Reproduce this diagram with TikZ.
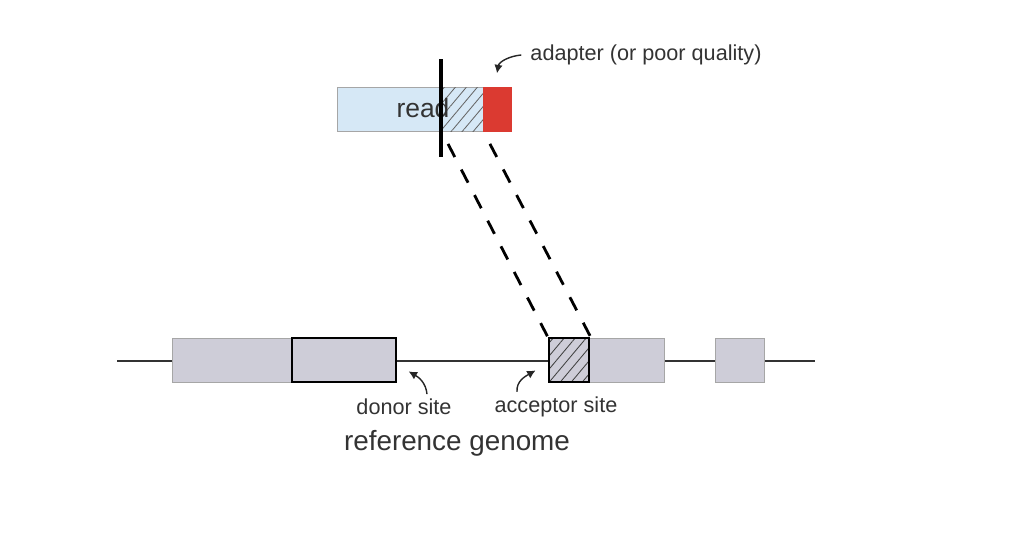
\documentclass[tikz,border=0pt]{standalone}
\usepackage{fontspec}
\setmainfont{Liberation Sans}
\usepackage{xcolor}
\usepackage{tikz}
\usetikzlibrary{shapes,arrows,arrows.meta,calc,patterns.meta}
\definecolor{readblue}{HTML}{D6E8F6}
\definecolor{exongray}{HTML}{CECDD8}
\definecolor{adapterred}{HTML}{DB3A31}
\definecolor{textgray}{HTML}{333333}
\tikzstyle{tsLabel} = [ 
    text=textgray, 
    font=\fontsize{15.4}{18}\selectfont
]
\tikzstyle{tsTitle} = [ 
    tsLabel, 
    font=\fontsize{19.8}{23}\selectfont
]
\tikzstyle{tsBox} = [ 
    rectangle,
    inner sep=0pt,
    minimum height=1.1cm,
    draw=gray!70,
    line width=0.7pt]
\tikzstyle{tsExon} = [ 
    tsBox,
    fill=exongray]
\tikzstyle{tsBold} = [ 
    tsBox,
    draw=black,
    line width=2pt]
\tikzstyle{tsHatch} = [ 
    pattern={Lines[angle=50,distance=6pt,line width=0.6pt]}]
\tikzstyle{tsPointer} = [ 
    -{Latex[length=6pt,width=6pt]},
    line width=1pt,
    black!85]
\tikzstyle{tsMapping} = [ 
    black,
    line width=2pt,
    dash pattern=on 10.5pt off 10pt,
    dash phase=10.5pt]

\begin{document}
\begin{tikzpicture}
        
        \useasboundingbox (0,0) rectangle (25.85,-13.45);
        
        % the read
        \node[tsBox, fill=readblue, minimum width=3.65cm] (read) at (10.25,-2.725) { };
        \node[tsBox, draw=none, tsHatch, pattern color=gray!80!black, minimum width=1.025cm] (clipped) at (11.5625,-2.725) { };
        \node[tsBox, fill=adapterred, draw=adapterred, minimum width=0.7cm] (adapter) at (12.425,-2.725) { };
        \node[tsLabel, font=\fontsize{18.8}{22}\selectfont] (readlbl) at (10.575,-2.7) {read};
        
        \coordinate (cutTop) at (11.025,-1.475);
        \coordinate (cutBot) at (11.025,-3.925);
     	\draw[line width=2.2pt] (cutTop) -- (cutBot);
     	
        \node[tsLabel] (adapterlbl) at (16.15,-1.375) {adapter (or poor quality)};
        \coordinate (adapterTip) at ($(adapter.north)+(0,0.33)$);
     	\draw[tsPointer] ([xshift=-3pt]adapterlbl.west) to[out=185,in=80] (adapterTip);
     	
        % the genome
        \coordinate (chrL) at (2.925,-9.025);
        \coordinate (chrR) at (20.375,-9.025);
     	\draw[line width=1.4pt, textgray] (chrL) -- (chrR);
     	
        \node[tsExon, minimum width=5.6cm] (exonA) at (7.1,-9.0) { };
        \node[tsExon, tsBold, minimum width=2.6cm] (donor) at (8.6,-9.0) { };
        \node[tsExon, minimum width=1.875cm] (exonB) at (15.6625,-9.0) { };
        \node[tsBold, preaction={fill=exongray}, tsHatch, pattern color=black!75,
              minimum width=1.0cm] (acceptor) at (14.225,-9.0) { };
        \node[tsExon, minimum width=1.225cm] (exonC) at (18.4875,-9.0) { };
        
     	\draw[tsMapping] (clipped.south west) -- (acceptor.north west);
     	\draw[tsMapping] (clipped.south east) -- (acceptor.north east);
     	
        \node[tsLabel] (donorlbl) at (10.1,-10.175) {donor site};
        \node[tsLabel] (acceptorlbl) at (13.9,-10.175) {acceptor site};
        \node[tsTitle] (genomelbl) at (11.425,-11.075) {reference genome};
        
        \coordinate (donorTip) at ($(donor.south east)+(0.28,0.3)$);
        \coordinate (acceptorTip) at ($(acceptor.south west)+(-0.3,0.325)$);
     	\draw[tsPointer] ([xshift=0.575cm]donorlbl.north) to[out=95,in=-30] (donorTip);
     	\draw[tsPointer] ([xshift=-0.975cm]acceptorlbl.north) to[out=95,in=210] (acceptorTip);
   	 	
       \end{tikzpicture}
\end{document}
